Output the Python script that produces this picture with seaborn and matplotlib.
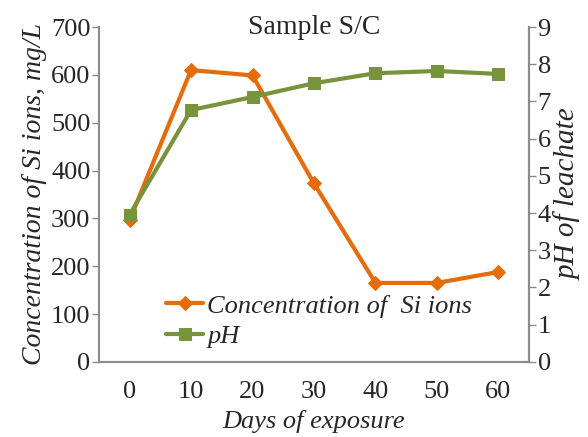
import matplotlib
matplotlib.use('Agg')
import matplotlib.pyplot as plt
import pandas as pd
import seaborn as sns

# values
days = [0, 10, 20, 30, 40, 50, 60]
si_conc = [296, 610, 599, 373, 165, 165, 188]
ph = [3.95, 6.77, 7.12, 7.49, 7.76, 7.82, 7.74]

orange = '#E46C0A'
green = '#77933C'
spine_gray = '#8C8C8C'

sns.set_style('white')
plt.rcParams['font.family'] = ['Liberation Serif', 'DejaVu Serif']

df = pd.DataFrame({'pos': range(len(days)), 'Day': days, 'Si': si_conc, 'pH': ph})

fig = plt.figure(figsize=(5.88, 4.37), dpi=100)
ax = fig.add_axes([0.168, 0.172, 0.732, 0.766])
ax2 = ax.twinx()

sns.lineplot(data=df, x='pos', y='Si', ax=ax, color=orange, lw=3,
             marker='D', markersize=7, markeredgecolor=orange,
             label='Concentration of  Si ions', legend=False)
sns.lineplot(data=df, x='pos', y='pH', ax=ax2, color=green, lw=3,
             marker='s', markersize=9, markeredgecolor=green,
             label='pH', legend=False)

ax.set_xlim(-0.5, len(days) - 0.5)
ax.set_ylim(0, 700)
ax2.set_ylim(0, 9)
ax.set_yticks(range(0, 701, 100))
ax2.set_yticks(range(0, 10))

# category boundaries get the tick marks, centres get the labels
ax.set_xticks([i - 0.5 for i in range(len(days) + 1)])
ax.set_xticklabels([])
ax.set_xticks(range(len(days)), minor=True)
ax.set_xticklabels([str(d) for d in days], minor=True)
ax.tick_params(axis='x', which='major', length=5, width=1, color=spine_gray, direction='inout')
ax.tick_params(axis='x', which='minor', length=0, pad=14, labelsize=19)
ax.tick_params(axis='y', left=True, length=5, width=1, color=spine_gray, labelsize=19, pad=1)
ax2.tick_params(axis='y', right=True, length=5, width=1, color=spine_gray, labelsize=19, pad=1)

for a in (ax, ax2):
    for s in a.spines.values():
        s.set_color(spine_gray)
        s.set_linewidth(1.5)
    a.spines['top'].set_visible(False)

ax.set_xlabel('Days of exposure', fontsize=19, style='italic', labelpad=5)
ax.set_ylabel('Concentration of Si ions, mg/L', fontsize=20, style='italic', labelpad=3)
ax2.set_ylabel('pH of leachate', fontsize=21, style='italic', labelpad=3)
ax.set_title('Sample S/C', fontsize=20, y=1.0, pad=-5)

h1, l1 = ax.get_legend_handles_labels()
h2, l2 = ax2.get_legend_handles_labels()
leg = ax2.legend(h1 + h2, l1 + l2, loc='center left', bbox_to_anchor=(0.102, 0.122),
                 frameon=False, prop={'style': 'italic', 'size': 19},
                 handlelength=1.4, handletextpad=0.15, labelspacing=0.25)

fig.savefig('out.png', dpi=100)
